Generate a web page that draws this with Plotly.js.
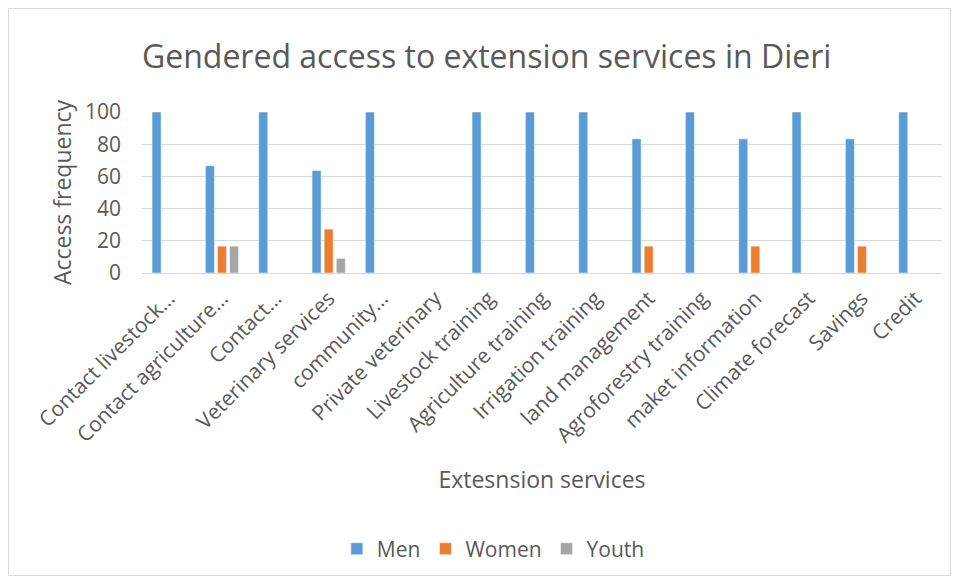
<!DOCTYPE html>
<html>
<head>
<meta charset="utf-8">
<script src="https://cdn.plot.ly/plotly-3.0.1.min.js"></script>
<style>
  html, body { margin: 0; padding: 0; background: #ffffff; }
  #wrap { position: relative; width: 958px; height: 581px; }
  #chart { position: absolute; left: 0; top: 0; width: 958px; height: 581px; }
  #frame { position: absolute; left: 8px; top: 8px; width: 941px; height: 566px; border: 1px solid #d9d9d9; pointer-events: none; }
</style>
</head>
<body>
<div id="wrap"><div id="chart"></div><div id="frame"></div></div>
<script>
const categories = [
  "Contact livestock…", "Contact agriculture…", "Contact…", "Veterinary services",
  "community…", "Private veterinary", "Livestock training", "Agriculture training",
  "Irrigation training", "land management", "Agroforestry training", "maket information",
  "Climate forecast", "Savings", "Credit"
];
const men   = [100, 66.67, 100, 63.64, 100, 0, 100, 100, 100, 83.33, 100, 83.33, 100, 83.33, 100];
const women = [0, 16.67, 0, 27.27, 0, 0, 0, 0, 0, 16.67, 0, 16.67, 0, 16.67, 0];
const youth = [0, 16.67, 0, 9.09, 0, 0, 0, 0, 0, 0, 0, 0, 0, 0, 0];
const yTicks = [0, 20, 40, 60, 80, 100];

const FONT = "'Open Sans', sans-serif";
const TXT = "#595959";

const traces = [
  {name: "Men", y: men, color: "#5B9BD5"},
  {name: "Women", y: women, color: "#ED7D31"},
  {name: "Youth", y: youth, color: "#A5A5A5"}
].map(s => ({
  type: "bar", name: s.name, x: categories, y: s.y,
  marker: {color: s.color, line: {color: "rgba(255,255,255,0.5)", width: 1}},
  hoverinfo: "x+y+name"
}));

const layout = {
  width: 958, height: 581,
  margin: {l: 142, r: 16, t: 112, b: 308},
  paper_bgcolor: "#ffffff", plot_bgcolor: "#ffffff",
  font: {family: FONT, color: TXT},
  barmode: "group", bargap: 0.32, bargroupgap: 0.25,
  title: {
    text: "Gendered access to extension services in Dieri",
    font: {size: 32, color: TXT, family: FONT},
    xref: "container", x: 0.508, xanchor: "center",
    yref: "container", y: 0.902, yanchor: "middle"
  },
  xaxis: {
    type: "category",
    tickangle: -45,
    tickfont: {size: 21, color: TXT},
    showgrid: false, showline: false, zeroline: false, ticks: "",
    ticklabelstandoff: 8,
    title: {text: "Extesnsion services", font: {size: 23, color: TXT}, standoff: 24}
  },
  yaxis: {
    range: [0, 100], tickvals: yTicks, ticktext: yTicks.map(String),
    tickfont: {size: 21, color: TXT},
    showgrid: true, gridcolor: "#d9d9d9", gridwidth: 1,
    zeroline: true, zerolinecolor: "#d9d9d9", zerolinewidth: 1,
    showline: false, ticks: "", ticklabelstandoff: 20,
    title: {text: "Access frequency", font: {size: 23, color: TXT}, standoff: 6}
  },
  showlegend: true,
  legend: {
    orientation: "h",
    xref: "container", x: 0.515, xanchor: "center",
    yref: "container", y: 0.055, yanchor: "middle",
    font: {size: 21, color: TXT},
    itemwidth: 30
  }
};

Plotly.newPlot("chart", traces, layout, {displayModeBar: false, staticPlot: false});
</script>
</body>
</html>
